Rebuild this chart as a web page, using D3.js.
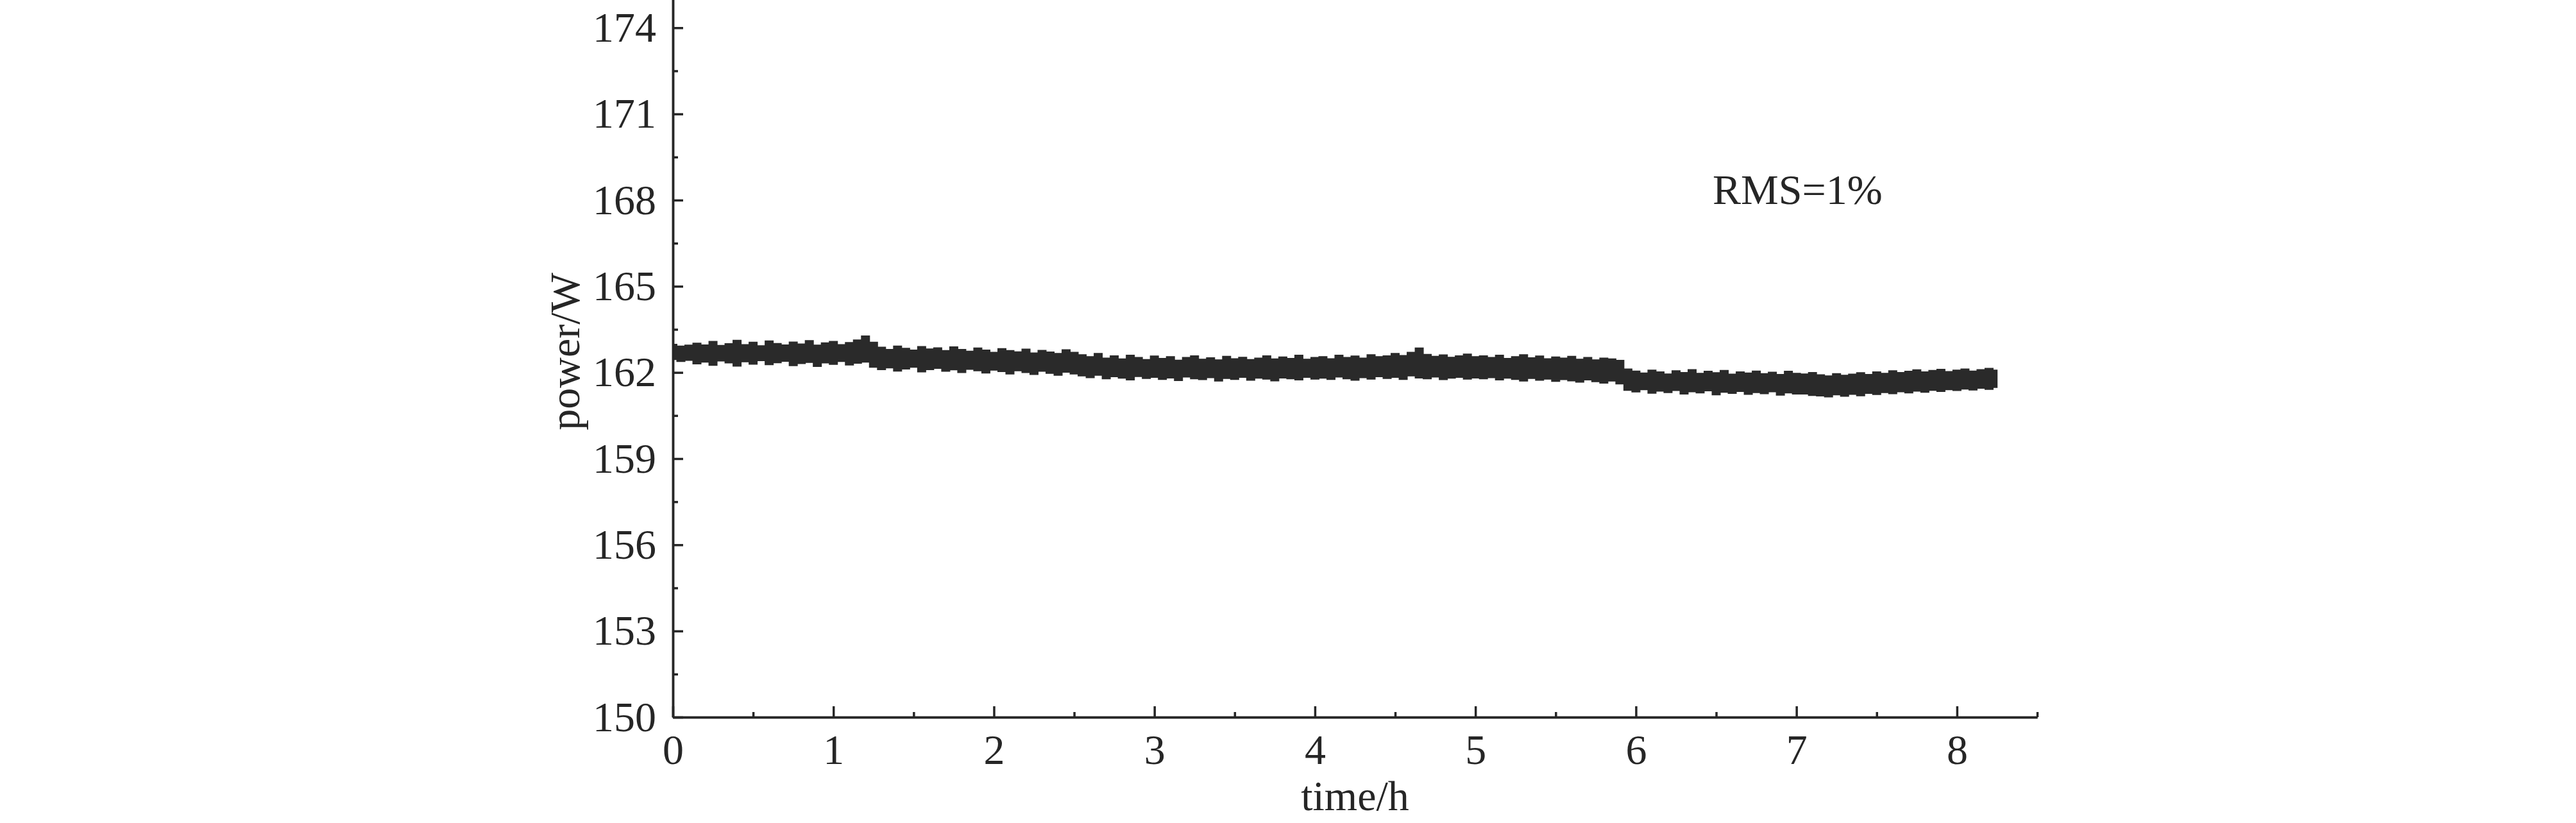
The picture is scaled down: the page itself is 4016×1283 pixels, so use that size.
<!DOCTYPE html>
<html>
<head>
<meta charset="utf-8">
<script src="https://cdn.jsdelivr.net/npm/d3@7"></script>
<style>
  html, body { margin: 0; padding: 0; background: #ffffff; }
  svg { display: block; }
</style>
</head>
<body>
<svg id="chart" width="4016" height="1283"></svg>
<script>
// ---------------- data ----------------
const xTickValues = [0, 1, 2, 3, 4, 5, 6, 7, 8];
const xMinorTickValues = [0.5, 1.5, 2.5, 3.5, 4.5, 5.5, 6.5, 7.5, 8.5];
const yTickValues = [150, 153, 156, 159, 162, 165, 168, 171, 174];
const yMinorTickValues = [151.5, 154.5, 157.5, 160.5, 163.5, 166.5, 169.5, 172.5];
const xDomain = [0, 8.5];
const yDomain = [150, 175];
const xLabel = "time/h";
const yLabel = "power/W";
const note = "RMS=1%";

// sample times (h)
const time = [
  0, 0.05, 0.1, 0.15, 0.2, 0.25, 0.3, 0.35, 0.4, 0.45, 0.5, 0.55, 0.6, 0.65, 0.7, 0.75, 0.8, 0.85, 0.9, 0.95,
  1, 1.05, 1.1, 1.15, 1.2, 1.25, 1.3, 1.35, 1.4, 1.45, 1.5, 1.55, 1.6, 1.65, 1.7, 1.75, 1.8, 1.85, 1.9, 1.95,
  2, 2.05, 2.1, 2.15, 2.2, 2.25, 2.3, 2.35, 2.4, 2.45, 2.5, 2.55, 2.6, 2.65, 2.7, 2.75, 2.8, 2.85, 2.9, 2.95,
  3, 3.05, 3.1, 3.15, 3.2, 3.25, 3.3, 3.35, 3.4, 3.45, 3.5, 3.55, 3.6, 3.65, 3.7, 3.75, 3.8, 3.85, 3.9, 3.95,
  4, 4.05, 4.1, 4.15, 4.2, 4.25, 4.3, 4.35, 4.4, 4.45, 4.5, 4.55, 4.6, 4.65, 4.7, 4.75, 4.8, 4.85, 4.9, 4.95,
  5, 5.05, 5.1, 5.15, 5.2, 5.25, 5.3, 5.35, 5.4, 5.45, 5.5, 5.55, 5.6, 5.65, 5.7, 5.75, 5.8, 5.85, 5.9, 5.95,
  6, 6.05, 6.1, 6.15, 6.2, 6.25, 6.3, 6.35, 6.4, 6.45, 6.5, 6.55, 6.6, 6.65, 6.7, 6.75, 6.8, 6.85, 6.9, 6.95,
  7, 7.05, 7.1, 7.15, 7.2, 7.25, 7.3, 7.35, 7.4, 7.45, 7.5, 7.55, 7.6, 7.65, 7.7, 7.75, 7.8, 7.85, 7.9, 7.95,
  8, 8.05, 8.1, 8.15, 8.2, 8.25
];

// upper envelope of the noisy power trace (W)
const powerHigh = [
  162.98, 162.92, 162.95, 163.02, 162.96, 163.08, 162.94, 163.00, 163.12, 162.97, 163.05, 162.93, 163.10, 163.01, 162.96, 163.06, 162.99, 163.11, 162.95, 163.03,
  163.08, 162.97, 163.04, 163.13, 163.27, 163.05,
  162.88, 162.80, 162.92, 162.84, 162.78, 162.90, 162.82, 162.86, 162.76, 162.89, 162.80, 162.74, 162.85, 162.78, 162.70, 162.83, 162.76, 162.72, 162.81, 162.68,
  162.77, 162.71, 162.66, 162.79, 162.70,
  162.62, 162.55, 162.66, 162.50, 162.58, 162.47, 162.60, 162.52, 162.45, 162.57, 162.49, 162.55, 162.43, 162.52, 162.58, 162.46, 162.51, 162.44, 162.56, 162.48,
  162.53, 162.45, 162.50, 162.58, 162.47, 162.54, 162.49, 162.60, 162.46, 162.52,
  162.55, 162.48, 162.60, 162.52, 162.57, 162.50, 162.62, 162.55, 162.58, 162.66, 162.59, 162.70, 162.85, 162.63, 162.56, 162.61, 162.53, 162.58, 162.64, 162.55,
  162.58, 162.52, 162.60, 162.49, 162.55, 162.62, 162.51, 162.57, 162.48, 162.54, 162.50, 162.56, 162.46, 162.52, 162.44, 162.50, 162.47, 162.42,
  162.12, 162.05, 161.98, 162.08, 162.02, 161.95, 162.06, 162.00, 162.10, 161.97, 162.04, 161.99, 162.07, 161.94, 162.02, 161.98, 162.05, 161.96, 162.01, 161.93,
  162.04, 161.97,
  161.95, 162.00, 161.92, 161.88, 161.96, 161.90, 161.94, 161.99, 161.93, 162.02, 161.97, 162.06, 162.00, 162.04, 162.09, 162.02, 162.07, 162.11, 162.03, 162.08,
  162.12, 162.05, 162.10, 162.14, 162.08
];

// lower envelope of the noisy power trace (W)
const powerLow = [
  162.45, 162.38, 162.42, 162.30, 162.36, 162.25, 162.40, 162.33, 162.22, 162.37, 162.29, 162.41, 162.27, 162.34, 162.39, 162.24, 162.31, 162.35, 162.21, 162.33,
  162.28, 162.38, 162.26, 162.32, 162.36, 162.18,
  162.10, 162.16, 162.05, 162.12, 162.18, 162.02, 162.10, 162.14, 162.04, 162.09, 162.00, 162.11, 162.06, 161.98, 162.08, 162.03, 161.95, 162.06, 162.00, 161.93,
  162.04, 161.97, 161.90, 162.01, 161.95,
  161.88, 161.82, 161.90, 161.78, 161.85, 161.80, 161.74, 161.86, 161.79, 161.83, 161.76, 161.81, 161.72, 161.84, 161.78, 161.75, 161.82, 161.70, 161.79, 161.76,
  161.83, 161.73, 161.80, 161.77, 161.71, 161.81, 161.78, 161.74, 161.83, 161.77,
  161.80, 161.76, 161.84, 161.78, 161.73, 161.82, 161.77, 161.85, 161.79, 161.83, 161.76, 161.88, 161.81, 161.78, 161.84, 161.75, 161.80, 161.83, 161.77, 161.81,
  161.78, 161.82, 161.74, 161.80, 161.76, 161.70, 161.79, 161.73, 161.77, 161.69, 161.75, 161.71, 161.66, 161.74, 161.68, 161.63, 161.70, 161.60,
  161.38, 161.32, 161.40, 161.28, 161.35, 161.30, 161.37, 161.25, 161.33, 161.29, 161.36, 161.22, 161.31, 161.27, 161.34, 161.24, 161.30, 161.26, 161.33, 161.21,
  161.29, 161.25,
  161.25, 161.20, 161.18, 161.15, 161.22, 161.17, 161.24, 161.19, 161.27, 161.23, 161.30, 161.26, 161.33, 161.29, 161.35, 161.31, 161.38, 161.34, 161.40, 161.37,
  161.42, 161.39, 161.45, 161.41, 161.48
];

// ---------------- drawing ----------------
const ink = "#262626";
const fontFamily = "'Liberation Serif', 'Times New Roman', serif";
const fontSize = 66;

const svg = d3.select("#chart");
svg.append("rect").attr("width", 4016).attr("height", 1283).attr("fill", "#ffffff");

const plot = { left: 1049, right: 3176, top: -1.5, bottom: 1118 };

const x = d3.scaleLinear().domain(xDomain).range([plot.left, plot.right]);
const y = d3.scaleLinear().domain(yDomain).range([plot.bottom, plot.top]);

const rows = time.map((t, i) => ({ t: t, hi: powerHigh[i], lo: powerLow[i] }));

// noisy trace band
const band = d3.area()
  .x(d => x(d.t))
  .y0(d => y(d.lo))
  .y1(d => y(d.hi))
  .curve(d3.curveStep);

svg.append("path")
  .datum(rows)
  .attr("d", band)
  .attr("fill", "#2a2a2a")
  .attr("stroke", "#2a2a2a")
  .attr("stroke-width", 1.5);

function styleAxis(g) {
  g.selectAll("path.domain").attr("stroke", ink).attr("stroke-width", 3.5);
  g.selectAll(".tick line").attr("stroke", ink).attr("stroke-width", 3.5);
  g.selectAll(".tick text")
    .attr("fill", ink)
    .style("font-family", fontFamily)
    .style("font-size", fontSize + "px");
}

// x axis minor ticks
svg.append("g")
  .attr("transform", `translate(0,${plot.bottom})`)
  .call(d3.axisBottom(x).tickValues(xMinorTickValues).tickSizeInner(-8).tickSizeOuter(0).tickFormat(""))
  .call(styleAxis);

// x axis major ticks
svg.append("g")
  .attr("transform", `translate(0,${plot.bottom})`)
  .call(d3.axisBottom(x).tickValues(xTickValues).tickSizeInner(-17).tickSizeOuter(0).tickPadding(26).tickFormat(d3.format("d")))
  .call(styleAxis);

// y axis minor ticks
svg.append("g")
  .attr("transform", `translate(${plot.left},0)`)
  .call(d3.axisLeft(y).tickValues(yMinorTickValues).tickSizeInner(-8).tickSizeOuter(0).tickFormat(""))
  .call(styleAxis);

// y axis major ticks
svg.append("g")
  .attr("transform", `translate(${plot.left},0)`)
  .call(d3.axisLeft(y).tickValues(yTickValues).tickSizeInner(-16).tickSizeOuter(0).tickPadding(26).tickFormat(d3.format("d")))
  .call(styleAxis);

// axis titles
svg.append("text")
  .attr("x", (plot.left + plot.right) / 2)
  .attr("y", 1263)
  .attr("text-anchor", "middle")
  .attr("fill", ink)
  .style("font-family", fontFamily)
  .style("font-size", fontSize + "px")
  .text(xLabel);

svg.append("text")
  .attr("transform", `translate(903,548) rotate(-90)`)
  .attr("text-anchor", "middle")
  .attr("fill", ink)
  .style("font-family", fontFamily)
  .style("font-size", fontSize + "px")
  .text(yLabel);

// annotation
svg.append("text")
  .attr("x", 2670)
  .attr("y", 318)
  .attr("fill", ink)
  .style("font-family", fontFamily)
  .style("font-size", fontSize + "px")
  .text(note);
</script>
</body>
</html>
